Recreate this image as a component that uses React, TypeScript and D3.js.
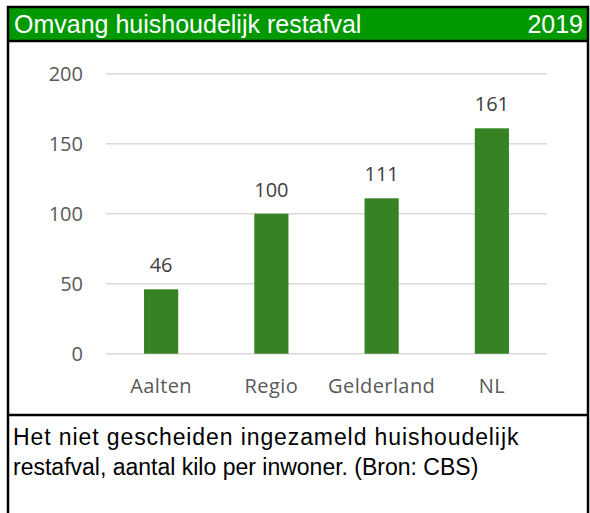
import { useRef, useEffect } from 'react';
import * as d3 from 'd3';

const title = 'Omvang huishoudelijk restafval';
const year = '2019';
const categories = ['Aalten', 'Regio', 'Gelderland', 'NL'];
const values = [46, 100, 111, 161];
const yTicks = [0, 50, 100, 150, 200];
const caption = [
  'Het niet gescheiden ingezameld huishoudelijk',
  'restafval, aantal kilo per inwoner. (Bron: CBS)',
];

const App = () => {
  const svgRef = useRef<SVGSVGElement>(null);

  useEffect(() => {
    if (!svgRef.current) return;
    const width = 590;
    const height = 513;
    const svg = d3.select(svgRef.current)
      .attr('width', width)
      .attr('height', height);
    svg.selectAll('*').remove();

    svg.append('rect').attr('width', width).attr('height', height).attr('fill', '#fff');

    const arial = '"Liberation Sans", Arial, sans-serif';

    // header
    svg.append('rect')
      .attr('x', 8).attr('y', 7).attr('width', 580).attr('height', 34)
      .attr('fill', '#009900');
    svg.append('text')
      .attr('x', 14).attr('y', 33)
      .attr('font-family', arial)
      .attr('font-size', 25)
      .attr('fill', '#fff')
      .text(title);
    svg.append('text')
      .attr('x', 583).attr('y', 33)
      .attr('text-anchor', 'end')
      .attr('font-family', arial)
      .attr('font-size', 25)
      .attr('fill', '#fff')
      .text(year);

    const x = d3.scaleBand()
      .domain(categories)
      .range([106, 547])
      .paddingInner(0.69)
      .paddingOuter(0.345);

    const y = d3.scaleLinear()
      .domain([0, 200])
      .range([353.7, 73.7]);

    const axisFont = '"Open Sans", "Noto Sans", sans-serif';

    svg.append('g')
      .selectAll('line')
      .data(yTicks)
      .join('line')
      .attr('x1', 106).attr('x2', 547)
      .attr('y1', d => y(d)).attr('y2', d => y(d))
      .attr('stroke', '#d9d9d9')
      .attr('stroke-width', 1.5);

    svg.append('g')
      .selectAll('text')
      .data(yTicks)
      .join('text')
      .attr('x', 83)
      .attr('y', d => y(d) + 7)
      .attr('text-anchor', 'end')
      .attr('font-family', axisFont)
      .attr('font-size', 20)
      .attr('fill', '#595959')
      .text(d => d);

    svg.append('g')
      .selectAll('rect')
      .data(values)
      .join('rect')
      .attr('x', (_, i) => x(categories[i])!)
      .attr('width', x.bandwidth())
      .attr('y', d => y(d))
      .attr('height', d => y(0) - y(d))
      .attr('fill', '#378324');

    svg.append('g')
      .selectAll('text')
      .data(values)
      .join('text')
      .attr('x', (_, i) => x(categories[i])! + x.bandwidth() / 2)
      .attr('y', d => y(d) - 17)
      .attr('text-anchor', 'middle')
      .attr('font-family', axisFont)
      .attr('font-size', 20)
      .attr('fill', '#404040')
      .text(d => d);

    svg.append('g')
      .selectAll('text')
      .data(categories)
      .join('text')
      .attr('x', d => x(d)! + x.bandwidth() / 2)
      .attr('y', 393)
      .attr('text-anchor', 'middle')
      .attr('font-family', axisFont)
      .attr('font-size', 20)
      .attr('letter-spacing', 0.4)
      .attr('fill', '#595959')
      .text(d => d);

    // caption (first line is set a bit looser, as in the original)
    svg.append('g')
      .selectAll('text')
      .data(caption)
      .join('text')
      .attr('x', 13)
      .attr('y', (_, i) => 445 + i * 30)
      .attr('font-family', arial)
      .attr('font-size', 23)
      .attr('letter-spacing', (_, i) => (i === 0 ? 0.9 : 0))
      .attr('fill', '#000')
      .text(d => d);

    // borders
    const border = svg.append('g').attr('stroke', '#000').attr('fill', 'none').attr('stroke-width', 2.5);
    border.append('line').attr('x1', 8).attr('x2', 8).attr('y1', 6).attr('y2', height);
    border.append('line').attr('x1', 588).attr('x2', 588).attr('y1', 6).attr('y2', height);
    border.append('line').attr('x1', 7).attr('x2', 589).attr('y1', 7).attr('y2', 7);
    border.append('line').attr('x1', 7).attr('x2', 589).attr('y1', 41).attr('y2', 41);
    border.append('line').attr('x1', 7).attr('x2', 589).attr('y1', 415).attr('y2', 415);

    return () => { svg.selectAll('*').remove(); };
  }, []);

  return <svg ref={svgRef} style={{ position: 'absolute', left: 0, top: 0, display: 'block' }} />;
};

export default App;
